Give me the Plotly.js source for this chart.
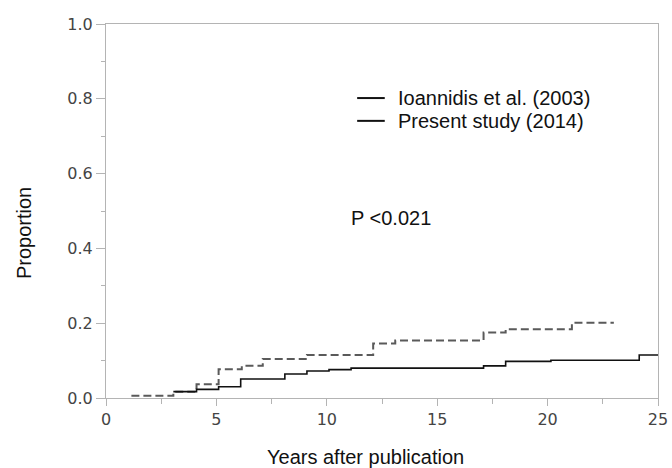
<!DOCTYPE html>
<html>
<head>
<meta charset="utf-8">
<script src="https://cdn.plot.ly/plotly-3.0.1.min.js"></script>
<style>
  html, body { margin: 0; padding: 0; background: #fff; }
  #chart { width: 672px; height: 468px; }
</style>
</head>
<body>
<div id="chart"></div>
<script>
// Ioannidis et al. (2003) - dashed step curve
var ioannidisYears = [1.15, 3.05, 4.1, 5.1, 6.15, 7.1, 9.1, 12.1, 13.1, 17.1, 18.1, 21.1, 23.0];
var ioannidisProp  = [0.006, 0.017, 0.037, 0.077, 0.086, 0.104, 0.115, 0.146, 0.154, 0.175, 0.184, 0.201, 0.201];

// Present study (2014) - solid step curve
var presentYears = [3.05, 4.1, 5.1, 6.1, 8.1, 9.1, 10.1, 11.1, 17.1, 18.1, 20.15, 24.15, 25];
var presentProp  = [0.017, 0.023, 0.030, 0.051, 0.064, 0.072, 0.076, 0.080, 0.086, 0.098, 0.101, 0.115, 0.115];

var legendLabels = ["Ioannidis et al. (2003)", "Present study (2014)"];
var pValueText = "P <0.021";
var xTitle = "Years after publication";
var yTitle = "Proportion";

var traces = [
  {
    x: ioannidisYears, y: ioannidisProp, type: 'scatter', mode: 'lines',
    line: {shape: 'hv', color: '#5a5a5a', width: 2, dash: '8px,4px'},
    name: legendLabels[0], showlegend: false, hoverinfo: 'skip'
  },
  {
    x: presentYears, y: presentProp, type: 'scatter', mode: 'lines',
    line: {shape: 'hv', color: '#111111', width: 1.6},
    name: legendLabels[1], showlegend: false, hoverinfo: 'skip'
  }
];

var textFont = {family: 'Arial, "Liberation Sans", sans-serif', size: 20, color: '#111'};
var tickFont = {family: '"DejaVu Sans", Verdana, sans-serif', size: 16, color: '#444'};

var legendRowsY = [0.802, 0.741];
var shapes = [];
var annotations = [];
for (var i = 0; i < legendLabels.length; i++) {
  shapes.push({type: 'line', xref: 'paper', yref: 'paper', x0: 0.455, x1: 0.505,
               y0: legendRowsY[i], y1: legendRowsY[i], line: {color: '#111', width: 2}});
  annotations.push({xref: 'paper', yref: 'paper', x: 0.526, y: legendRowsY[i],
                    xanchor: 'left', yanchor: 'middle', showarrow: false,
                    text: legendLabels[i], font: textFont});
}
annotations.push({xref: 'paper', yref: 'paper', x: 0.516, y: 0.481, xanchor: 'center', yanchor: 'middle',
                  showarrow: false, text: pValueText, font: textFont});
annotations.push({xref: 'paper', yref: 'paper', x: -0.1486, y: 0.441, xanchor: 'center', yanchor: 'middle',
                  showarrow: false, text: yTitle, textangle: -90, font: textFont});
annotations.push({xref: 'paper', yref: 'paper', x: 0.471, y: -0.158, xanchor: 'center', yanchor: 'middle',
                  showarrow: false, text: xTitle, font: textFont});

var layout = {
  width: 672, height: 468,
  margin: {l: 106, r: 14, t: 24, b: 70},
  paper_bgcolor: '#ffffff', plot_bgcolor: '#ffffff',
  showlegend: false,
  xaxis: {
    range: [0, 25], dtick: 5, tick0: 0,
    showgrid: false, zeroline: false,
    showline: true, mirror: true, linecolor: '#b4b4b4', linewidth: 1,
    ticks: 'outside', ticklen: 7, tickcolor: '#b4b4b4',
    minor: {dtick: 2.5, ticks: 'outside', ticklen: 5, tickcolor: '#b4b4b4', showgrid: false},
    tickfont: tickFont, fixedrange: true
  },
  yaxis: {
    range: [0, 1], dtick: 0.2, tick0: 0, tickformat: '.1f',
    showgrid: false, zeroline: false,
    showline: true, mirror: true, linecolor: '#b4b4b4', linewidth: 1,
    ticks: 'outside', ticklen: 9, tickcolor: '#b4b4b4',
    minor: {dtick: 0.1, ticks: 'outside', ticklen: 4, tickcolor: '#b4b4b4', showgrid: false},
    tickfont: tickFont, fixedrange: true
  },
  shapes: shapes,
  annotations: annotations
};

Plotly.newPlot('chart', traces, layout, {displayModeBar: false, staticPlot: true});
</script>
</body>
</html>
